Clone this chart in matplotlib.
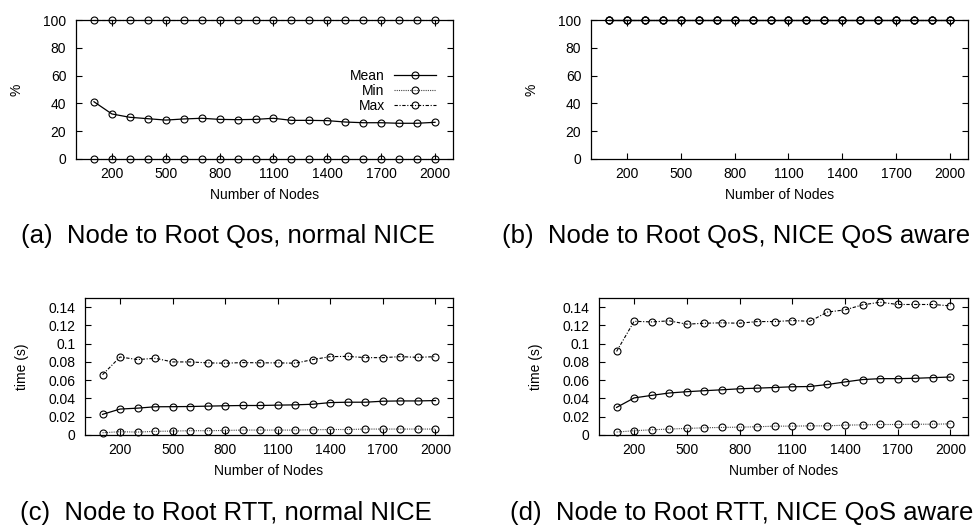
import numpy as np
import matplotlib.pyplot as plt
from matplotlib.ticker import FormatStrFormatter

plt.rcParams['font.family'] = ['Liberation Sans', 'DejaVu Sans']

# ── Data ──────────────────────────────────────────────────────────────────────
nodes = [100, 200, 300, 400, 500, 600, 700, 800, 900, 1000,
         1100, 1200, 1300, 1400, 1500, 1600, 1700, 1800, 1900, 2000]

# (a) Node to Root QoS, normal NICE  (%)
qos_normal_mean = [41.2, 32.4, 30.0, 29.0, 28.0, 28.8, 29.3, 28.5, 28.3, 28.5,
                   29.3, 27.8, 27.8, 27.6, 26.6, 26.1, 26.1, 25.7, 25.7, 26.4]
qos_normal_min = [0] * 20
qos_normal_max = [100] * 20

# (b) Node to Root QoS, NICE QoS aware  (%)
qos_aware_mean = [100] * 20
qos_aware_min = [100] * 20
qos_aware_max = [100] * 20

# (c) Node to Root RTT, normal NICE  (s)
rtt_normal_mean = [0.0226, 0.0284, 0.0294, 0.0309, 0.0310, 0.0312, 0.0316, 0.0320, 0.0323, 0.0323,
                   0.0327, 0.0330, 0.0337, 0.0355, 0.0359, 0.0359, 0.0370, 0.0373, 0.0373, 0.0377]
rtt_normal_min = [0.0025, 0.0036, 0.0032, 0.0040, 0.0043, 0.0047, 0.0047, 0.0050, 0.0054, 0.0054,
                  0.0054, 0.0054, 0.0057, 0.0060, 0.0060, 0.0065, 0.0065, 0.0065, 0.0065, 0.0065]
rtt_normal_max = [0.0660, 0.0854, 0.0826, 0.0840, 0.0800, 0.0800, 0.0790, 0.0786, 0.0793, 0.0790,
                  0.0790, 0.0786, 0.0826, 0.0858, 0.0861, 0.0847, 0.0847, 0.0858, 0.0850, 0.0858]

# (d) Node to Root RTT, NICE QoS aware  (s)
rtt_aware_mean = [0.0302, 0.0406, 0.0434, 0.0460, 0.0474, 0.0485, 0.0495, 0.0506, 0.0513, 0.0520,
                  0.0528, 0.0531, 0.0553, 0.0581, 0.0607, 0.0617, 0.0617, 0.0621, 0.0628, 0.0635]
rtt_aware_min = [0.0032, 0.0047, 0.0057, 0.0065, 0.0072, 0.0079, 0.0083, 0.0086, 0.0090, 0.0097,
                 0.0097, 0.0100, 0.0100, 0.0108, 0.0111, 0.0115, 0.0115, 0.0118, 0.0118, 0.0122]
rtt_aware_max = [0.0915, 0.1245, 0.1238, 0.1250, 0.1213, 0.1224, 0.1228, 0.1224, 0.1242, 0.1242,
                 0.1253, 0.1245, 0.1346, 0.1370, 0.1425, 0.1454, 0.1429, 0.1429, 0.1429, 0.1414]

x_ticks = [200, 500, 800, 1100, 1400, 1700, 2000]
captions = ['(a)  Node to Root Qos, normal NICE',
            '(b)  Node to Root QoS, NICE QoS aware',
            '(c)  Node to Root RTT, normal NICE',
            '(d)  Node to Root RTT, NICE QoS aware']

# ── Figure ────────────────────────────────────────────────────────────────────
W, H = 979, 526
fig = plt.figure(figsize=(W / 100, H / 100), dpi=100)


def px_axes(left, top, right, bottom):
    return fig.add_axes([left / W, 1 - bottom / H, (right - left) / W, (bottom - top) / H])


FS = 10
mk = dict(marker='o', markersize=5, markerfacecolor='none',
          markeredgecolor='black', markeredgewidth=0.8)
styles = {
    'Mean': dict(color='black', linestyle='-', linewidth=0.9),
    'Min': dict(color='#444444', linestyle=(0, (1, 1)), linewidth=0.8),
    'Max': dict(color='black', linestyle=(0, (3, 1.5, 1, 1.5)), linewidth=0.8),
}


def setup(ax, ylim, yticks, ylabel, fmt=None):
    ax.set_xlim(0, 2100)
    ax.set_ylim(*ylim)
    ax.set_xticks(x_ticks)
    ax.set_yticks(yticks)
    if fmt:
        ax.yaxis.set_major_formatter(FormatStrFormatter(fmt))
    ax.tick_params(direction='in', top=True, right=True, length=4.5,
                   width=0.8, labelsize=FS)
    ax.tick_params(axis='x', pad=6)
    ax.tick_params(axis='y', pad=7)
    ax.set_xlabel('Number of Nodes', fontsize=FS, labelpad=5)
    ax.set_ylabel(ylabel, fontsize=FS, labelpad=14)
    for s in ax.spines.values():
        s.set_linewidth(0.9)


def draw(ax, mean, mn, mx):
    lines = []
    lines += ax.plot(nodes, mean, label='Mean', **styles['Mean'], **mk)
    lines += ax.plot(nodes, mn, label='Min', **styles['Min'], **mk)
    lines += ax.plot(nodes, mx, label='Max', **styles['Max'], **mk)
    for ln in lines:
        ln.set_clip_on(False)


ax_a = px_axes(76, 20, 453, 159)
ax_b = px_axes(591, 20, 968, 159)
ax_c = px_axes(85, 298, 453, 435)
ax_d = px_axes(599, 298, 968, 435)

for ax, data in [(ax_a, (qos_normal_mean, qos_normal_min, qos_normal_max)),
                 (ax_b, (qos_aware_mean, qos_aware_min, qos_aware_max))]:
    draw(ax, *data)
    setup(ax, (0, 100), [0, 20, 40, 60, 80, 100], '%')

for ax, data in [(ax_c, (rtt_normal_mean, rtt_normal_min, rtt_normal_max)),
                 (ax_d, (rtt_aware_mean, rtt_aware_min, rtt_aware_max))]:
    draw(ax, *data)
    setup(ax, (0, 0.15), [0, 0.02, 0.04, 0.06, 0.08, 0.1, 0.12, 0.14], 'time (s)', '%g')

ax_a.legend(loc='upper right', bbox_to_anchor=(0.955, 0.645), frameon=False,
            markerfirst=False, fontsize=FS, handlelength=3.0, handletextpad=0.7,
            labelspacing=0.05, borderpad=0, borderaxespad=0)

cap_pos = [(228, 243), (736, 243), (226, 520), (742, 520)]
for text, (cx, by) in zip(captions, cap_pos):
    fig.text(cx / W, 1 - by / H, text, ha='center', va='baseline', fontsize=18.5)

fig.savefig('out.png', dpi=100)
